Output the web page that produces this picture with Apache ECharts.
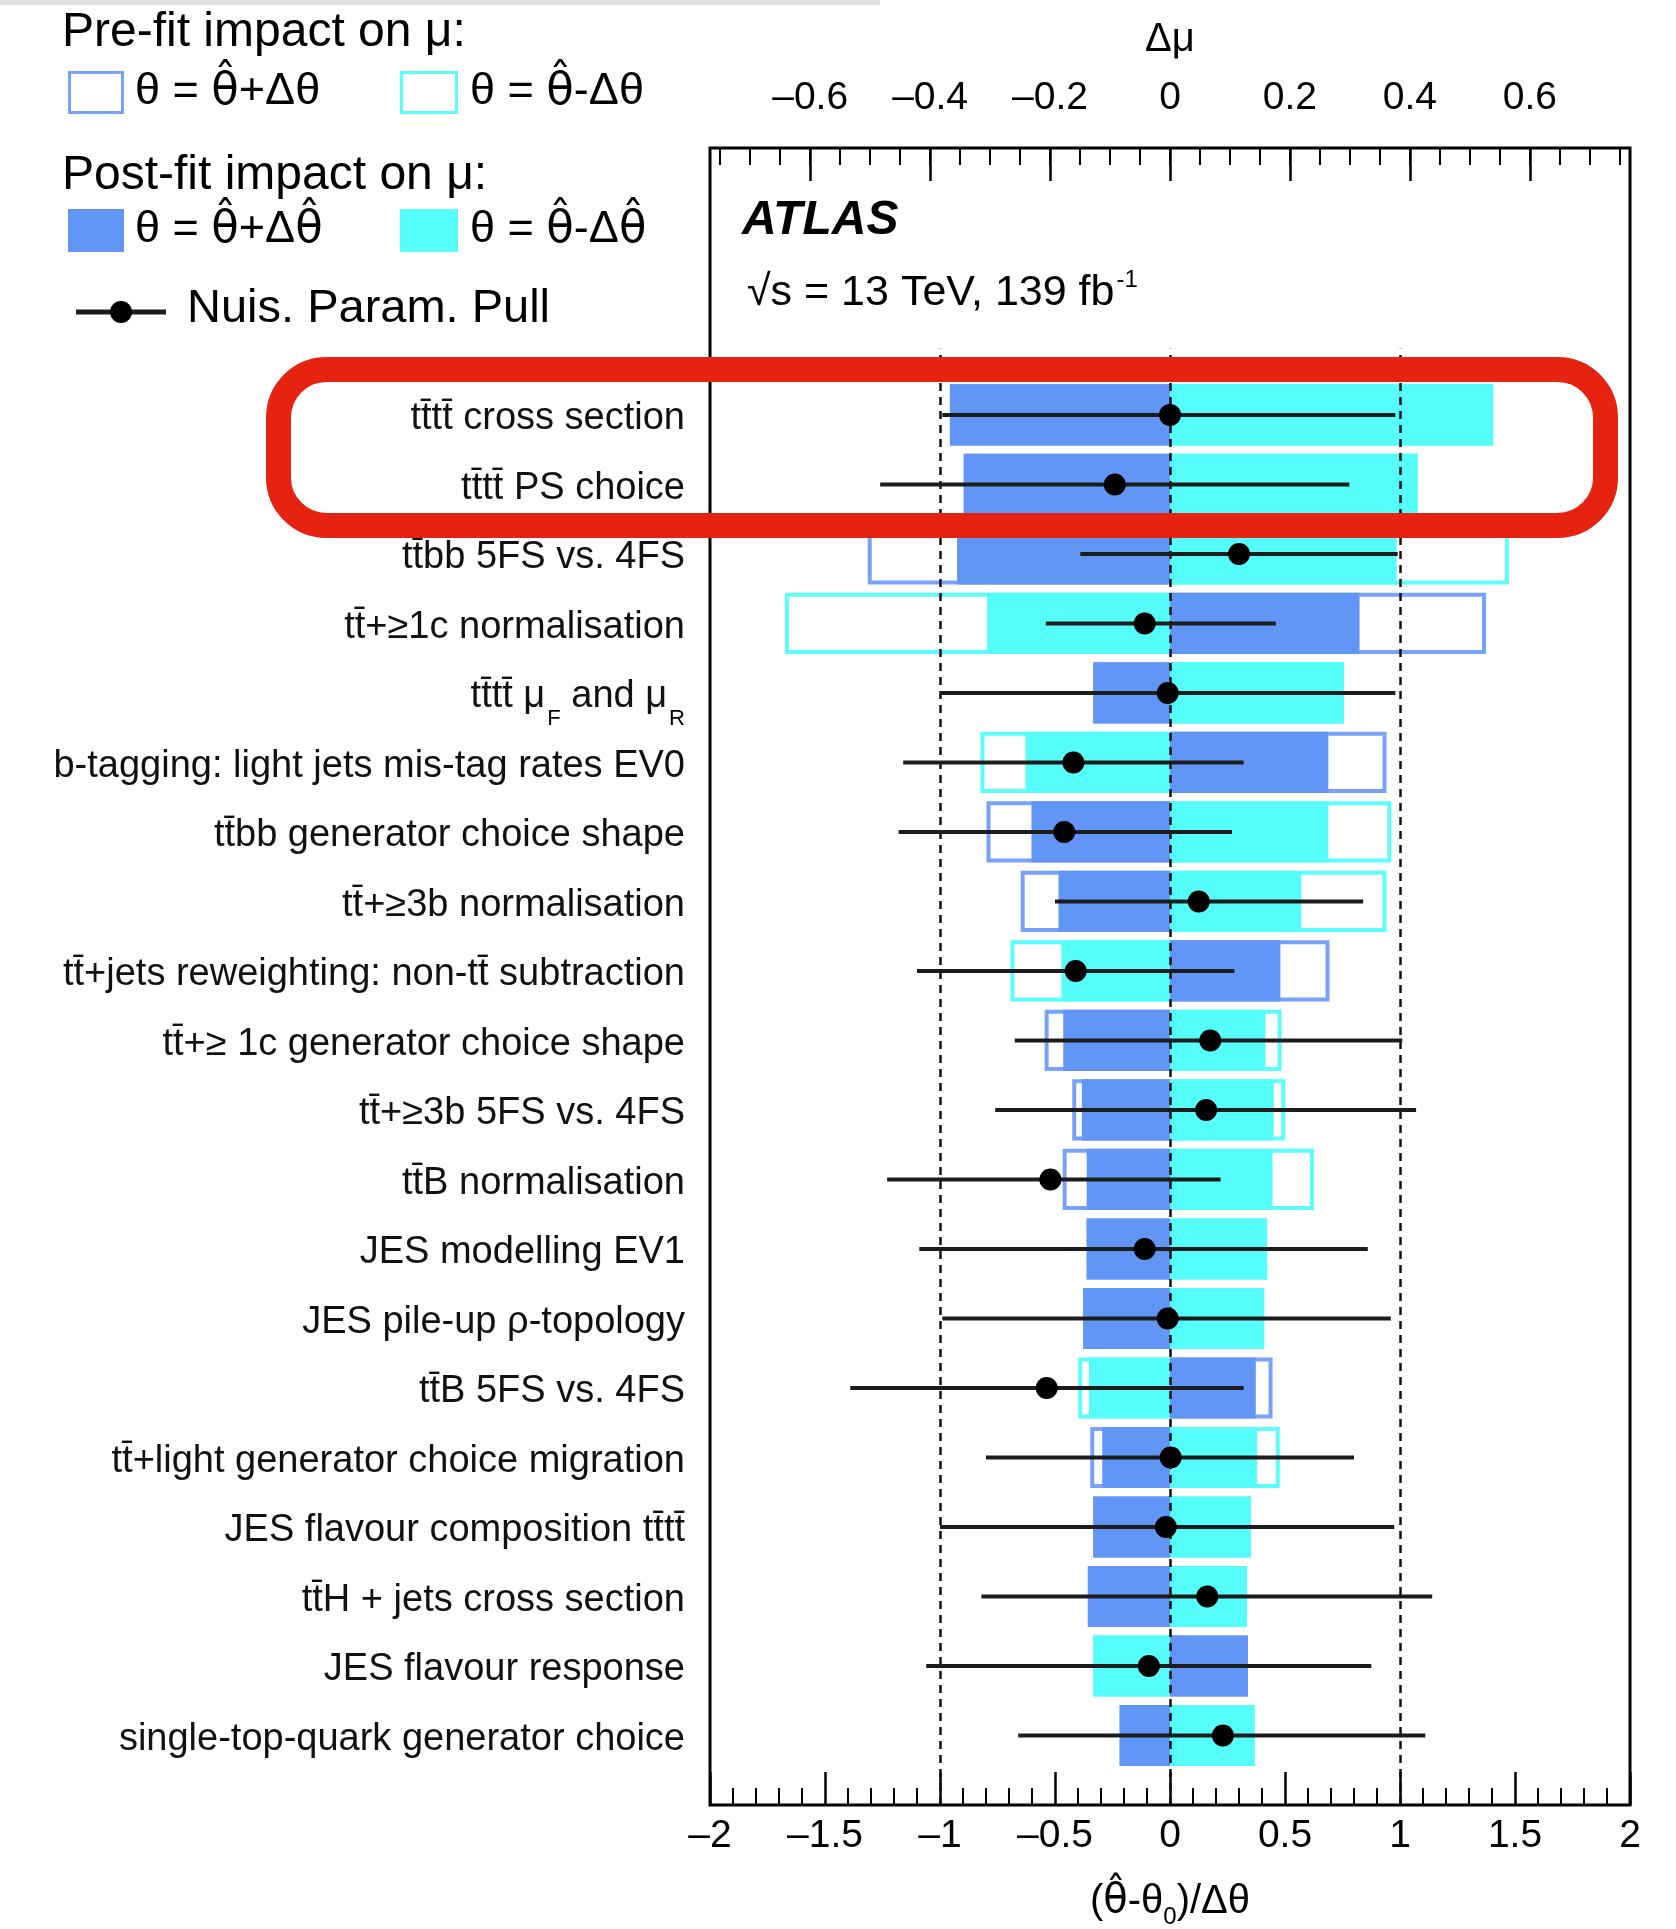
<!DOCTYPE html>
<html>
<head>
<meta charset="utf-8">
<title>Nuisance parameter ranking</title>
<script src="https://cdn.jsdelivr.net/npm/echarts@6/dist/echarts.min.js"></script>
<style>
html, body { margin: 0; padding: 0; background: #fff; }
#chart { width: 1676px; height: 1929px; }
</style>
</head>
<body>
<div id="chart"></div>
<script>
var FONT = '"Liberation Sans", Arial, Helvetica, sans-serif';
var HATFONT = '"DejaVu Sans", "Noto Sans", sans-serif';
var HAT = '{h|\u03b8\u0302}'; // theta hat, drawn in a font with mark positioning

// nuisance parameters, top to bottom
var names = [
    'tt\u0304tt\u0304 cross section',
    'tt\u0304tt\u0304 PS choice',
    'tt\u0304bb 5FS vs. 4FS',
    'tt\u0304+\u22651c normalisation',
    'tt\u0304tt\u0304 \u03bc{sub|F} and \u03bc{sub|R}',
    'b-tagging: light jets mis-tag rates EV0',
    'tt\u0304bb generator choice shape',
    'tt\u0304+\u22653b normalisation',
    'tt\u0304+jets reweighting: non-tt\u0304 subtraction',
    'tt\u0304+\u2265 1c generator choice shape',
    'tt\u0304+\u22653b 5FS vs. 4FS',
    'tt\u0304B normalisation',
    'JES modelling EV1',
    'JES pile-up \u03c1-topology',
    'tt\u0304B 5FS vs. 4FS',
    'tt\u0304+light generator choice migration',
    'JES flavour composition tt\u0304tt\u0304',
    'tt\u0304H + jets cross section',
    'JES flavour response',
    'single-top-quark generator choice'
];

// impact on mu (delta mu)
var preUp    = [-0.367, -0.344, -0.504,  0.527, -0.128,  0.361, -0.306, -0.249,  0.266, -0.209, -0.163, -0.179, -0.139, -0.145,  0.171, -0.133, -0.128, -0.137,  0.130, -0.084];
var preDown  = [ 0.539,  0.413,  0.565, -0.642,  0.289, -0.316,  0.369,  0.361, -0.266,  0.186,  0.192,  0.240,  0.162,  0.157, -0.153,  0.183,  0.135,  0.128, -0.128,  0.141];
var postUp   = [-0.367, -0.344, -0.355,  0.316, -0.128,  0.264, -0.231, -0.186,  0.184, -0.178, -0.147, -0.139, -0.139, -0.145,  0.143, -0.113, -0.128, -0.137,  0.130, -0.084];
var postDown = [ 0.539,  0.413,  0.378, -0.305,  0.290, -0.241,  0.264,  0.219, -0.181,  0.159,  0.173,  0.171,  0.162,  0.157, -0.135,  0.145,  0.135,  0.128, -0.128,  0.141];

// pulls
var pull   = [ 0.00, -0.24,  0.30, -0.11, -0.01, -0.42, -0.46,  0.125, -0.41,  0.175,  0.157, -0.52, -0.11, -0.01, -0.536,  0.003, -0.018,  0.162, -0.092,  0.23];
var pullLo = [-0.99, -1.26, -0.39, -0.54, -1.00, -1.16, -1.18, -0.50,  -1.10, -0.675, -0.76,  -1.23, -1.09, -0.99, -1.39,  -0.80,  -1.00,  -0.82,  -1.06,  -0.66];
var pullHi = [ 0.98,  0.78,  0.99,  0.46,  0.98,  0.32,  0.27,  0.84,   0.28,  1.01,   1.07,   0.22,  0.86,  0.96,  0.32,   0.80,   0.975,  1.14,   0.875,  1.11];

var pullTicks = ['-2', '-1.5', '-1', '-0.5', '0', '0.5', '1', '1.5', '2'];
var muTicks = [-0.6, -0.4, -0.2, 0, 0.2, 0.4, 0.6];
var muMinor = [-0.75, -0.7, -0.65, -0.6, -0.55, -0.5, -0.45, -0.4, -0.35, -0.3, -0.25, -0.2, -0.15, -0.1, -0.05, 0,
               0.05, 0.1, 0.15, 0.2, 0.25, 0.3, 0.35, 0.4, 0.45, 0.5, 0.55, 0.6, 0.65, 0.7, 0.75];
var refLines = [-1, 0, 1];

var BLUE = '#6296f6', CYAN = '#55fdfb';
var BLUE_LINE = '#78a2f7', CYAN_LINE = '#5cfdfd';
var BAR_H = 0.88;

var nRows = names.length;
var rowPos = names.map(function (n, i) { return nRows - i; });

function dash(s) { return String(s).replace('-', '\u2013'); }

function boxSeries(name, vals, color, hollow, z) {
    return {
        name: name,
        type: 'custom',
        xAxisIndex: 1,
        yAxisIndex: 0,
        z: z,
        silent: true,
        data: vals.map(function (v, i) { return [v, rowPos[i]]; }),
        renderItem: function (params, api) {
            var y = api.value(1);
            var p0 = api.coord([0, y]);
            var p1 = api.coord([api.value(0), y]);
            var h = api.size([0, BAR_H])[1];
            var x = Math.min(p0[0], p1[0]);
            var w = Math.abs(p1[0] - p0[0]);
            if (hollow) {
                return {
                    type: 'rect',
                    shape: { x: x + 2, y: p0[1] - h / 2 + 2, width: w - 4, height: h - 4 },
                    style: { fill: 'none', stroke: color, lineWidth: 4 }
                };
            }
            return {
                type: 'rect',
                shape: { x: x, y: p0[1] - h / 2, width: w, height: h },
                style: { fill: color }
            };
        }
    };
}

function legendText(x, y, text, size) {
    return {
        type: 'text', x: x, y: y,
        style: {
            text: text, fontSize: size, fontFamily: FONT, fill: '#000', verticalAlign: 'middle',
            rich: { h: { fontSize: size, fontFamily: HATFONT } }
        }
    };
}

var chart = echarts.init(document.getElementById('chart'));

var option = {
    backgroundColor: '#fff',
    animation: false,
    textStyle: { fontFamily: FONT, color: '#000' },
    grid: {
        left: 710, right: 46, top: 148, bottom: 124,
        outerBoundsMode: 'none',
        containLabel: false,
        show: true, borderColor: '#000', borderWidth: 3, backgroundColor: 'transparent'
    },
    xAxis: [{
        type: 'value',
        position: 'bottom',
        min: -2, max: 2, interval: 0.5,
        axisLine: { show: false },
        splitLine: { show: false },
        axisTick: { inside: true, length: 33, lineStyle: { color: '#000', width: 2.5 } },
        minorTick: { show: true, splitNumber: 5, length: 17, lineStyle: { color: '#000', width: 2 } },
        axisLabel: {
            fontSize: 39, color: '#000', margin: 12, fontFamily: FONT,
            formatter: function (v) {
                var s = pullTicks.find(function (t) { return Number(t) === v; });
                return dash(s !== undefined ? s : v);
            }
        },
        name: '(' + HAT + '-\u03b8{sub|0})/\u0394\u03b8',
        nameLocation: 'middle',
        nameGap: 70,
        nameTextStyle: {
            fontSize: 40, color: '#000', fontFamily: FONT,
            rich: {
                sub: { fontSize: 24, padding: [30, 0, 0, 0], fontFamily: FONT },
                h: { fontSize: 40, fontFamily: HATFONT }
            }
        }
    }, {
        type: 'value',
        position: 'top',
        min: -0.767, max: 0.767,
        axisLine: { show: false },
        splitLine: { show: false },
        axisTick: { inside: true, length: 33, customValues: muTicks, lineStyle: { color: '#000', width: 2.5 } },
        axisLabel: {
            fontSize: 39, color: '#000', margin: 30, fontFamily: FONT,
            customValues: muTicks,
            formatter: function (v) { return dash(v); }
        },
        name: '\u0394\u03bc',
        nameLocation: 'middle',
        nameGap: 88,
        nameTextStyle: { fontSize: 40, color: '#000', fontFamily: FONT }
    }, {
        type: 'value',
        position: 'top',
        min: -0.767, max: 0.767,
        axisLine: { show: false },
        splitLine: { show: false },
        axisTick: { inside: true, length: 17, customValues: muMinor, lineStyle: { color: '#000', width: 2 } },
        axisLabel: { show: false }
    }],
    yAxis: [{
        type: 'value',
        min: 0, max: 23.84,
        axisLine: { show: false },
        axisTick: { show: false },
        splitLine: { show: false },
        axisLabel: {
            customValues: rowPos,
            margin: 25,
            fontSize: 38,
            color: '#111',
            fontFamily: FONT,
            padding: [8, 0, 0, 0],
            formatter: function (v) { return names[Math.round(nRows - v)]; },
            rich: { sub: { fontSize: 22, padding: [44, 0, 0, 2], fontFamily: FONT } }
        }
    }],
    series: [
        boxSeries('pre-fit +', preUp, BLUE_LINE, true, 1),
        boxSeries('pre-fit -', preDown, CYAN_LINE, true, 1),
        boxSeries('post-fit +', postUp, BLUE, false, 2),
        boxSeries('post-fit -', postDown, CYAN, false, 2),
        {
            name: 'Nuis. Param. Pull',
            type: 'custom',
            xAxisIndex: 0,
            yAxisIndex: 0,
            z: 4,
            silent: true,
            encode: { x: [0, 1, 2], y: 3 },
            data: pull.map(function (p, i) { return [p, pullLo[i], pullHi[i], rowPos[i]]; }),
            renderItem: function (params, api) {
                var y = api.value(3);
                var c = api.coord([api.value(0), y]);
                var a = api.coord([api.value(1), y]);
                var b = api.coord([api.value(2), y]);
                return {
                    type: 'group',
                    children: [{
                        type: 'line',
                        shape: { x1: a[0], y1: a[1], x2: b[0], y2: b[1] },
                        style: { stroke: '#1c1c1c', lineWidth: 4 }
                    }, {
                        type: 'circle',
                        shape: { cx: c[0], cy: c[1], r: 11 },
                        style: { fill: '#000' }
                    }]
                };
            },
            markLine: {
                silent: true,
                symbol: 'none',
                z: 3,
                label: { show: false },
                lineStyle: { color: '#111', width: 2.5, type: [8, 6] },
                data: refLines.map(function (v) {
                    return [{ coord: [v, 0] }, { coord: [v, 20.95] }];
                })
            }
        }
    ],
    graphic: [
        { type: 'rect', left: 0, top: 0, shape: { width: 880, height: 5 }, style: { fill: '#dedede' } },
        legendText(62, 33, 'Pre-fit impact on \u03bc:', 48),
        { type: 'rect', shape: { x: 69.5, y: 72.5, width: 53, height: 40 }, style: { fill: '#fff', stroke: BLUE_LINE, lineWidth: 3 } },
        legendText(135, 92, '\u03b8 = ' + HAT + '+\u0394\u03b8', 45),
        { type: 'rect', shape: { x: 401.5, y: 72.5, width: 55, height: 40 }, style: { fill: '#fff', stroke: CYAN_LINE, lineWidth: 3 } },
        legendText(470, 92, '\u03b8 = ' + HAT + '-\u0394\u03b8', 45),
        legendText(62, 176, 'Post-fit impact on \u03bc:', 48),
        { type: 'rect', shape: { x: 68, y: 209, width: 56, height: 43 }, style: { fill: BLUE } },
        legendText(135, 230, '\u03b8 = ' + HAT + '+\u0394' + HAT, 45),
        { type: 'rect', shape: { x: 400, y: 209, width: 58, height: 43 }, style: { fill: CYAN } },
        legendText(470, 230, '\u03b8 = ' + HAT + '-\u0394' + HAT, 45),
        { type: 'line', shape: { x1: 76, y1: 312, x2: 166, y2: 312 }, style: { stroke: '#1c1c1c', lineWidth: 5 } },
        { type: 'circle', shape: { cx: 121, cy: 312, r: 11 }, style: { fill: '#000' } },
        legendText(187, 309, 'Nuis. Param. Pull', 47),
        { type: 'text', x: 742, y: 221, style: { text: 'ATLAS', font: 'italic bold 48px ' + FONT, fill: '#000', verticalAlign: 'middle' } },
        {
            type: 'text', x: 747, y: 293,
            style: {
                text: '\u221as = 13 TeV, 139 fb{sup|-1}',
                font: '43px ' + FONT, fill: '#000', verticalAlign: 'middle',
                rich: { sup: { fontSize: 24, fontFamily: FONT, padding: [0, 0, 26, 2] } }
            }
        },
        {
            type: 'rect', z: 100,
            shape: { x: 278.5, y: 369.5, width: 1327, height: 156, r: 48 },
            style: { fill: 'none', stroke: '#e62311', lineWidth: 25 }
        }
    ]
};

chart.setOption(option);
</script>
</body>
</html>
